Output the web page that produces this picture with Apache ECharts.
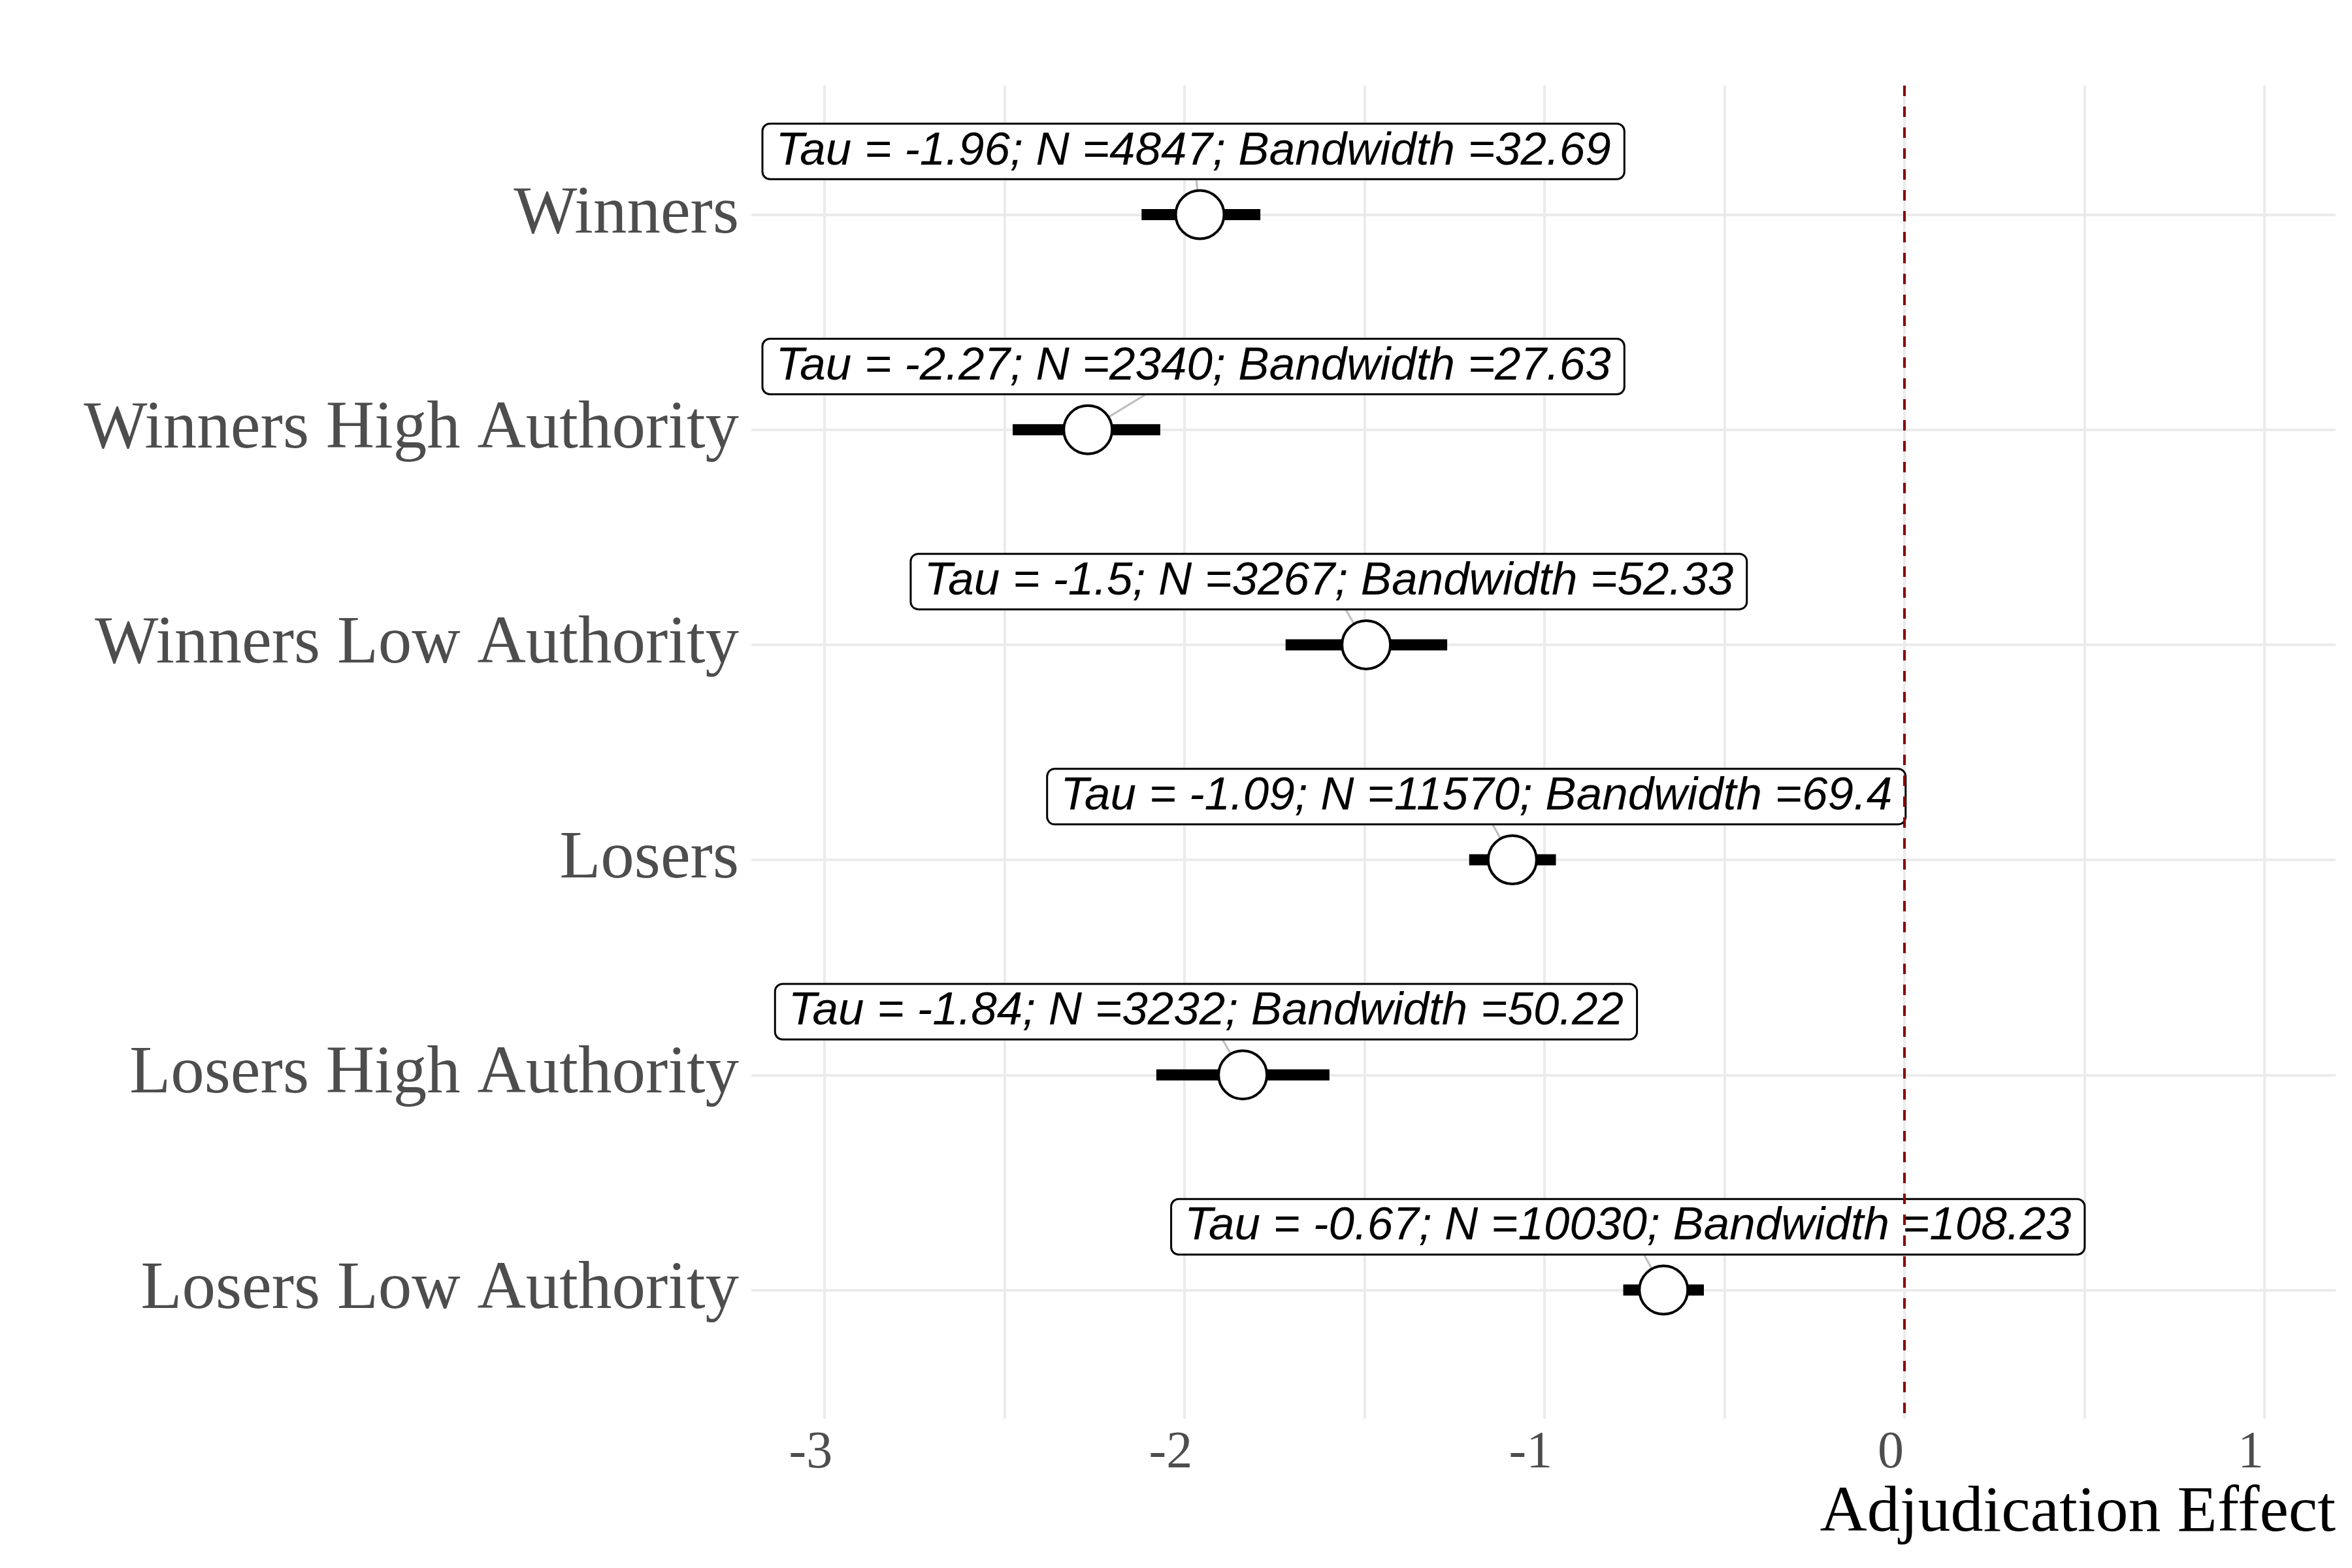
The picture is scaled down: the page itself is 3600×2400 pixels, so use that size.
<!DOCTYPE html>
<html>
<head>
<meta charset="utf-8">
<script src="https://cdn.jsdelivr.net/npm/echarts@6/dist/echarts.min.js"></script>
<style>
  html, body { margin: 0; padding: 0; background: #fff; }
  #chart { width: 3600px; height: 2400px; }
</style>
</head>
<body>
<div id="chart"></div>
<script>
// rows, top to bottom
var groups = ['Winners', 'Winners High Authority', 'Winners Low Authority', 'Losers', 'Losers High Authority', 'Losers Low Authority'];
var estimates = [-1.957, -2.268, -1.495, -1.089, -1.838, -0.669];
var ciLow = [-2.119, -2.477, -1.719, -1.209, -2.078, -0.781];
var ciHigh = [-1.789, -2.067, -1.270, -0.968, -1.597, -0.557];
var tauShown = [-1.96, -2.27, -1.5, -1.09, -1.84, -0.67];
var nObs = [4847, 2340, 3267, 11570, 3232, 10030];
var bandwidth = [32.69, 27.63, 52.33, 69.4, 50.22, 108.23];
// where the repelled labels ended up (centre, in effect units)
var labelX = [-1.975, -1.975, -1.599, -1.189, -1.940, -0.768];
var labelLift = 0.3;
var xTicks = [-3, -2, -1, 0, 1];
var xGrid = [-3, -2.5, -2, -1.5, -1, -0.5, 0, 0.5, 1];
var rows = [1, 2, 3, 4, 5, 6];

var serif = 'Liberation Serif';
var chart = echarts.init(document.getElementById('chart'));

function labelText(i) {
  return 'Tau = ' + tauShown[i] + '; N =' + nObs[i] + '; Bandwidth =' + bandwidth[i];
}

var data = groups.map(function (g, i) {
  return [rows[i], estimates[i], ciLow[i], ciHigh[i], labelX[i]];
});

function renderRow(params, api) {
  var i = params.dataIndex;
  var row = api.value(0);
  var p = api.coord([api.value(1), row]);
  var a = api.coord([api.value(2), row]);
  var b = api.coord([api.value(3), row]);
  var l = api.coord([api.value(4), row - labelLift]);
  var r = 37;
  var dx = p[0] - l[0], dy = p[1] - l[1];
  var len = Math.sqrt(dx * dx + dy * dy);
  var t0 = 41 / dy;
  var t1 = 1 - r / len;
  return {
    type: 'group',
    children: [
      {
        type: 'line',
        shape: { x1: l[0] + dx * t0, y1: l[1] + dy * t0, x2: l[0] + dx * t1, y2: l[1] + dy * t1 },
        style: { stroke: '#BEBEBE', lineWidth: 3 }
      },
      {
        type: 'line',
        shape: { x1: a[0], y1: a[1], x2: b[0], y2: b[1] },
        style: { stroke: '#000', lineWidth: 17, lineCap: 'butt' }
      },
      {
        type: 'circle',
        shape: { cx: p[0], cy: p[1], r: r },
        style: { fill: '#fff', stroke: '#000', lineWidth: 4 }
      },
      {
        type: 'text',
        x: l[0],
        y: l[1] + 2,
        style: {
          text: labelText(i),
          fontFamily: 'Liberation Sans',
          fontStyle: 'italic',
          fontSize: 71,
          lineHeight: 70,
          fill: '#000',
          align: 'center',
          verticalAlign: 'middle',
          backgroundColor: '#fff',
          borderColor: '#000',
          borderWidth: 3,
          borderRadius: 10,
          padding: [9, 19, 3, 19]
        }
      }
    ]
  };
}

var option = {
  animation: false,
  backgroundColor: '#fff',
  title: {
    text: 'Adjudication Effect',
    right: 25,
    top: 2267,
    padding: 0,
    textStyle: { fontFamily: serif, fontSize: 100, fontWeight: 'normal', color: '#000' }
  },
  grid: { left: 1150, right: 25, top: 131, bottom: 228 },
  xAxis: {
    type: 'value',
    min: -3.203,
    max: 1.198,
    axisLine: { show: false },
    axisTick: { show: false, customValues: xGrid },
    axisLabel: {
      customValues: xTicks,
      fontFamily: serif,
      fontSize: 80,
      color: '#4D4D4D',
      margin: 13,
      padding: [0, 42, 0, 0]
    },
    splitLine: { show: true, lineStyle: { color: '#EBEBEB', width: 4 } }
  },
  yAxis: {
    type: 'value',
    inverse: true,
    min: 0.4,
    max: 6.6,
    axisLine: { show: false },
    axisTick: { show: false, customValues: rows },
    axisLabel: {
      customValues: rows,
      formatter: function (v) { return groups[Math.round(v) - 1]; },
      fontFamily: serif,
      fontSize: 103,
      color: '#4D4D4D',
      margin: 19,
      padding: [10, 0, 0, 0]
    },
    splitLine: { show: true, lineStyle: { color: '#EBEBEB', width: 4 } }
  },
  series: [
    {
      type: 'custom',
      renderItem: renderRow,
      data: data,
      encode: { x: [1, 2, 3, 4], y: 0 }
    },
    {
      type: 'line',
      data: [],
      z: 10,
      markLine: {
        silent: true,
        symbol: ['none', 'none'],
        label: { show: false },
        lineStyle: { color: '#8B0000', width: 4, type: [16, 16] },
        data: [{ xAxis: 0 }]
      }
    }
  ]
};

chart.setOption(option);
</script>
</body>
</html>
